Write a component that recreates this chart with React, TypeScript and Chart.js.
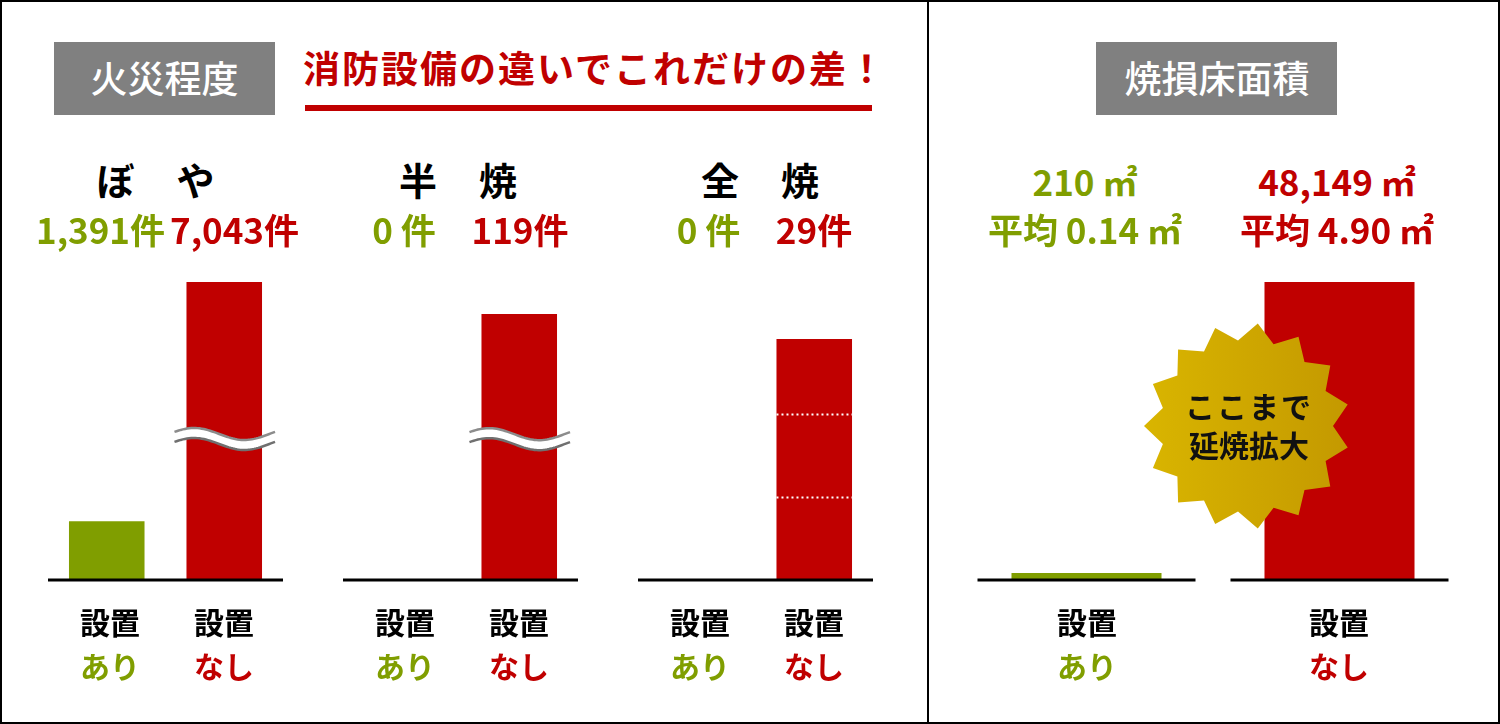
import React, { useEffect, useRef } from "react";
import { Chart, registerables } from "chart.js";

Chart.register(...registerables);

// ---------- data ----------
const categories = ["設置あり", "設置なし"];
const axisTop = ["設置", "設置"];
const axisBottom = ["あり", "なし"];
const fireTitles = ["ぼ　や", "半　焼", "全　焼"];
const fireWith = [1391, 0, 0];
const fireWithout = [7043, 119, 29];
const fireScaleMax = [8036, 152.1, 40.9];
const fireBreakAt = [3333, 63, null];
const fireGuides = [[], [], [10, 20]];
const areaValues = [210, 48149];
const areaAverages = [0.14, 4.9];
const areaScaleMax = 54934;

// ---------- style ----------
const GREEN = "#809e00";
const RED = "#c00000";
const GRAY = "#808080";
const FONT = '"Noto Sans CJK JP", "Noto Sans", sans-serif';
const M = 20;
const AREA_TOP = 240;
const AREA_BOTTOM = 580;
const TEXT_SHIFT = -3;

const fireLayout = [
  { x0: 48, w: 235, titleX: 156.5, valueX: [100.5, 234.5], axisX: [110, 224] },
  { x0: 343, w: 235, titleX: 459, valueX: [404, 520], axisX: [405, 519] },
  { x0: 638, w: 235, titleX: 761, valueX: [708.5, 814], axisX: [700, 814] },
];
const areaLayout = { x0: 960, w: 506, valueX: [1085, 1337], axisX: [1087, 1339] };

function waveCurve(x0: number, x1: number, yc: number, off: number) {
  const pts: [number, number][] = [];
  const n = 48;
  for (let k = 0; k <= n; k++) {
    const t = k / n;
    pts.push([x0 + t * (x1 - x0), yc + off - 6 * Math.sin(2 * Math.PI * t + 0.35)]);
  }
  return pts;
}

const decorPlugin = {
  id: "decor",
  afterDatasetsDraw(chart: any, _args: any, opts: any) {
    const { ctx, chartArea } = chart;
    const xs = chart.scales.x;
    const ys = chart.scales.y;
    const meta = chart.getDatasetMeta(0);
    const vals = chart.data.datasets[0].data as number[];
    ctx.save();
    // dotted guides inside bars
    (opts.guides || []).forEach((v: number) => {
      const y = Math.round(ys.getPixelForValue(v)) + 0.5;
      meta.data.forEach((bar: any, i: number) => {
        if (vals[i] <= v) return;
        ctx.beginPath();
        ctx.setLineDash([2, 3]);
        ctx.strokeStyle = "#ffffff";
        ctx.lineWidth = 2;
        ctx.moveTo(bar.x - bar.width / 2, y);
        ctx.lineTo(bar.x + bar.width / 2, y);
        ctx.stroke();
      });
    });
    ctx.setLineDash([]);
    // axis break symbol
    if (opts.breakAt != null) {
      const bar: any = meta.data[1];
      const yc = ys.getPixelForValue(opts.breakAt);
      const x0 = bar.x - bar.width / 2 - 12;
      const x1 = bar.x + bar.width / 2 + 13;
      const top = waveCurve(x0, x1, yc, -5);
      const bot = waveCurve(x0, x1, yc, 5);
      ctx.beginPath();
      top.forEach(([x, y], i) => (i ? ctx.lineTo(x, y) : ctx.moveTo(x, y)));
      for (let i = bot.length - 1; i >= 0; i--) ctx.lineTo(bot[i][0], bot[i][1]);
      ctx.closePath();
      ctx.fillStyle = "#ffffff";
      ctx.fill();
      const strokeCurve = (pts: [number, number][], color: string) => {
        ctx.beginPath();
        pts.forEach(([x, y], i) => (i ? ctx.lineTo(x, y) : ctx.moveTo(x, y)));
        ctx.strokeStyle = color;
        ctx.lineWidth = 2.5;
        ctx.stroke();
      };
      strokeCurve(top, "#8c8c8c");
      strokeCurve(bot, "#707070");
    }
    // baseline(s)
    ctx.strokeStyle = "#000000";
    ctx.lineWidth = 3;
    const y = chartArea.bottom;
    if (opts.segmentHalf) {
      chart.data.labels.forEach((_l: any, i: number) => {
        const x = xs.getPixelForValue(i);
        ctx.beginPath();
        ctx.moveTo(x - opts.segmentHalf, y);
        ctx.lineTo(x + opts.segmentHalf, y);
        ctx.stroke();
      });
    } else {
      ctx.beginPath();
      ctx.moveTo(chartArea.left, y);
      ctx.lineTo(chartArea.right, y);
      ctx.stroke();
    }
    ctx.restore();
  },
};

type BarProps = {
  x0: number;
  w: number;
  values: number[];
  max: number;
  barPct: number;
  minBar?: number;
  decor: any;
};

function BarChart({ x0, w, values, max, barPct, minBar, decor }: BarProps) {
  const ref = useRef<HTMLCanvasElement | null>(null);
  useEffect(() => {
    if (!ref.current) return;
    const chart = new Chart(ref.current, {
      type: "bar",
      data: {
        labels: categories,
        datasets: [
          {
            data: values,
            backgroundColor: [GREEN, RED],
            borderWidth: 0,
            barPercentage: barPct,
            categoryPercentage: 1,
            ...(minBar ? { minBarLength: minBar } : {}),
          },
        ],
      },
      options: {
        responsive: false,
        animation: false,
        devicePixelRatio: 1,
        layout: { padding: M },
        events: [],
        plugins: {
          legend: { display: false },
          tooltip: { enabled: false },
          decor,
        } as any,
        scales: {
          x: { display: false, offset: true },
          y: { display: false, min: 0, max },
        },
      },
      plugins: [decorPlugin],
    });
    return () => chart.destroy();
  }, []);
  const width = w + 2 * M;
  const height = AREA_BOTTOM - AREA_TOP + 2 * M;
  return (
    <canvas
      ref={ref}
      width={width}
      height={height}
      style={{ position: "absolute", left: x0 - M, top: AREA_TOP - M, width, height }}
    />
  );
}

function T({ x, y, children, style }: { x: number; y: number; children: any; style?: any }) {
  return (
    <div
      style={{
        position: "absolute",
        left: x,
        top: y + TEXT_SHIFT,
        transform: "translate(-50%, -50%)",
        whiteSpace: "pre",
        lineHeight: 1,
        fontFamily: FONT,
        fontWeight: 700,
        zIndex: 5,
        ...style,
      }}
    >
      {children}
    </div>
  );
}

function starPoints(cx: number, cy: number, rOut: number, rIn: number, n: number, startDeg: number) {
  const pts: string[] = [];
  for (let k = 0; k < n * 2; k++) {
    const a = ((startDeg + (k * 180) / n) * Math.PI) / 180;
    const r = k % 2 === 0 ? rOut : rIn;
    pts.push(`${(cx + r * Math.cos(a)).toFixed(1)},${(cy + r * Math.sin(a)).toFixed(1)}`);
  }
  return pts.join(" ");
}

const fmtCount = (v: number) => `${v.toLocaleString("en-US")}${v < 10 ? " " : ""}件`;

export default function App() {
  return (
    <div
      style={{
        position: "absolute",
        left: 0,
        top: 0,
        width: 1500,
        height: 724,
        background: "#ffffff",
        overflow: "hidden",
        fontFamily: FONT,
      }}
    >
      {/* frame */}
      <div
        style={{
          position: "absolute",
          left: 0,
          top: 0,
          width: 1500,
          height: 724,
          boxSizing: "border-box",
          border: "2px solid #000",
          zIndex: 10,
        }}
      />
      <div style={{ position: "absolute", left: 927, top: 0, width: 2, height: 724, background: "#000", zIndex: 10 }} />

      {/* header boxes */}
      <div style={{ position: "absolute", left: 54, top: 42, width: 221, height: 73, background: GRAY }} />
      <T x={164.5} y={80} style={{ color: "#fff", fontSize: 37, fontWeight: 500 }}>火災程度</T>
      <div style={{ position: "absolute", left: 1096, top: 42, width: 241, height: 73, background: GRAY }} />
      <T x={1217} y={80} style={{ color: "#fff", fontSize: 37, fontWeight: 500 }}>焼損床面積</T>

      <div
        style={{
          position: "absolute",
          left: 303,
          top: 52,
          fontFamily: FONT,
          fontWeight: 700,
          fontSize: 37,
          letterSpacing: 2,
          lineHeight: 1,
          color: RED,
          whiteSpace: "pre",
          marginTop: -3,
        }}
      >
        消防設備の違いでこれだけの差！
      </div>
      <div style={{ position: "absolute", left: 305, top: 105, width: 567, height: 6, background: RED }} />

      {/* fire-level charts */}
      {fireLayout.map((g, i) => (
        <React.Fragment key={i}>
          <BarChart
            x0={g.x0}
            w={g.w}
            values={[fireWith[i], fireWithout[i]]}
            max={fireScaleMax[i]}
            barPct={0.643}
            decor={{ breakAt: fireBreakAt[i], guides: fireGuides[i] }}
          />
          <T x={g.titleX} y={182} style={{ fontSize: 38, letterSpacing: 2, color: "#000" }}>
            {fireTitles[i]}
          </T>
          <T x={g.valueX[0]} y={231} style={{ fontSize: 35, color: GREEN }}>
            {fmtCount(fireWith[i])}
          </T>
          <T x={g.valueX[1]} y={231} style={{ fontSize: 35, color: RED }}>
            {fmtCount(fireWithout[i])}
          </T>
          {[0, 1].map((j) => (
            <React.Fragment key={j}>
              <T x={g.axisX[j]} y={624} style={{ fontSize: 30, color: "#000" }}>
                {axisTop[j]}
              </T>
              <T x={g.axisX[j]} y={668} style={{ fontSize: 30, color: j === 0 ? GREEN : RED }}>
                {axisBottom[j]}
              </T>
            </React.Fragment>
          ))}
        </React.Fragment>
      ))}

      {/* burnt floor area chart */}
      <BarChart
        x0={areaLayout.x0}
        w={areaLayout.w}
        values={areaValues}
        max={areaScaleMax}
        barPct={0.593}
        minBar={7}
        decor={{ segmentHalf: 109 }}
      />
      {[0, 1].map((j) => (
        <React.Fragment key={j}>
          <T x={areaLayout.valueX[j]} y={183} style={{ fontSize: 35, color: j === 0 ? GREEN : RED }}>
            {`${areaValues[j].toLocaleString("en-US")} ㎡`}
          </T>
          <T x={areaLayout.valueX[j]} y={231} style={{ fontSize: 35, color: j === 0 ? GREEN : RED }}>
            {`平均 ${areaAverages[j].toFixed(2)} ㎡`}
          </T>
          <T x={areaLayout.axisX[j]} y={624} style={{ fontSize: 30, color: "#000" }}>
            {axisTop[j]}
          </T>
          <T x={areaLayout.axisX[j]} y={668} style={{ fontSize: 30, color: j === 0 ? GREEN : RED }}>
            {axisBottom[j]}
          </T>
        </React.Fragment>
      ))}

      {/* starburst callout */}
      <svg
        width={260}
        height={260}
        viewBox="1117 296 260 260"
        style={{ position: "absolute", left: 1117, top: 296, zIndex: 4 }}
      >
        <defs>
          <linearGradient id="gold" x1="0" y1="0" x2="1" y2="0">
            <stop offset="0" stopColor="#d9b500" />
            <stop offset="1" stopColor="#c49900" />
          </linearGradient>
        </defs>
        <polygon points={starPoints(1247, 426, 103, 86, 15, -84)} fill="url(#gold)" />
      </svg>
      <T x={1249} y={408} style={{ fontSize: 30, letterSpacing: 2, color: "#111" }}>ここまで</T>
      <T x={1249} y={447} style={{ fontSize: 30, color: "#111" }}>延焼拡大</T>
    </div>
  );
}
